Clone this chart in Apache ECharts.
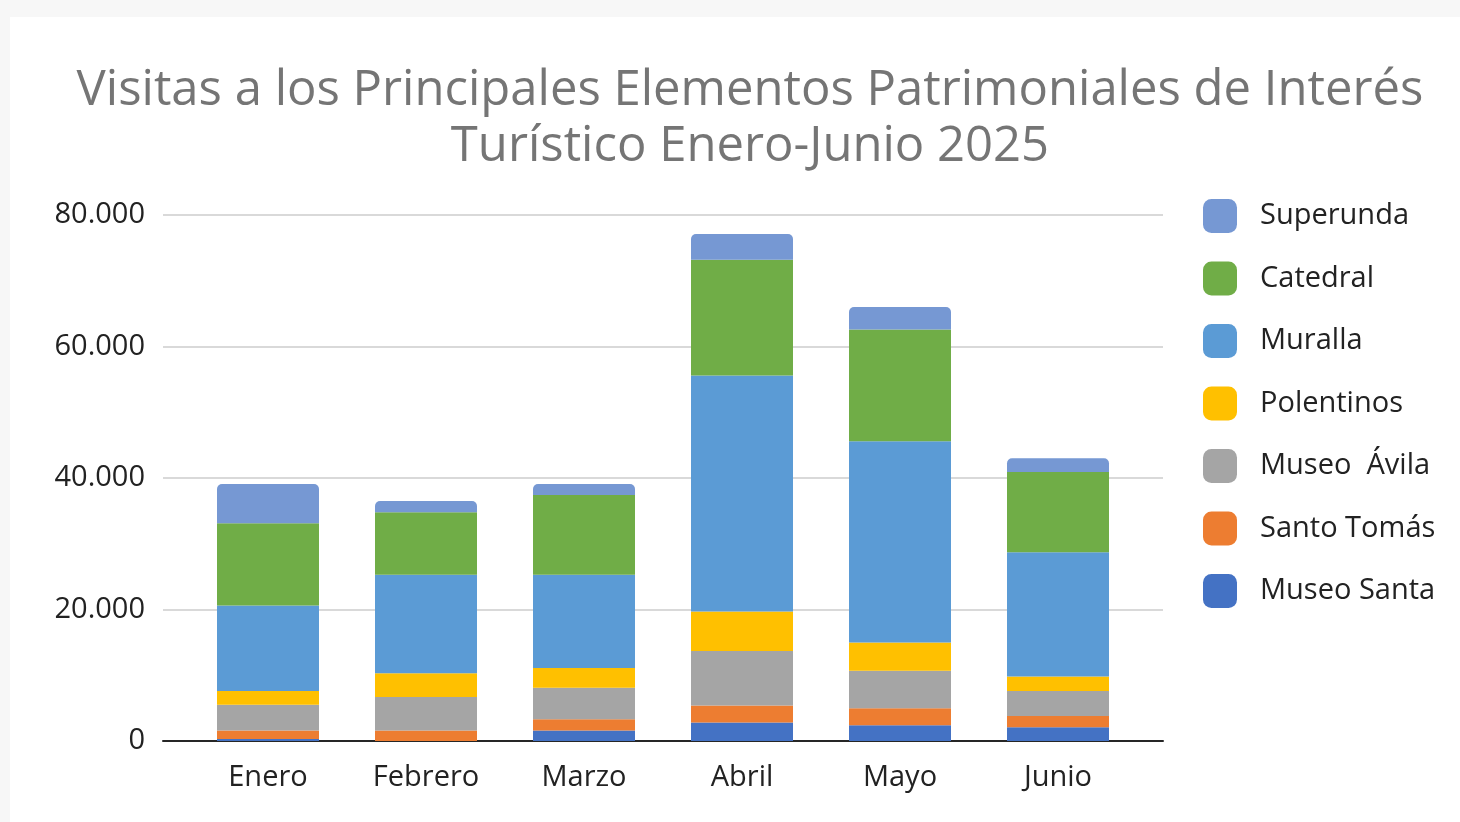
<!DOCTYPE html>
<html>
<head>
<meta charset="utf-8">
<script src="https://cdn.jsdelivr.net/npm/echarts@6/dist/echarts.min.js"></script>
<style>
  html, body { margin: 0; padding: 0; background: #f7f7f7; }
  .card { position: absolute; left: 10px; top: 17px; width: 1450px; height: 805px; background: #fff; }
  #chart { position: absolute; left: 0; top: 0; width: 1460px; height: 822px; }
</style>
</head>
<body>
<div class="card"></div>
<div id="chart"></div>
<script>
const months = ['Enero', 'Febrero', 'Marzo', 'Abril', 'Mayo', 'Junio']

// visitas por elemento (apiladas de abajo a arriba)
const museoSanta = [300, 0, 1600, 2800, 2400, 2100]
const santoTomas = [1300, 1600, 1700, 2600, 2600, 1700]
const museoAvila = [3900, 5100, 4800, 8300, 5700, 3800]
const polentinos = [2100, 3600, 3000, 6000, 4300, 2200]
const muralla = [13000, 15000, 14200, 35900, 30600, 18900]
const catedral = [12500, 9500, 12100, 17600, 17000, 12200]
const superunda = [6000, 1700, 1700, 3900, 3400, 2100]

const yTicks = [0, 20000, 40000, 60000, 80000]

const seriesDefs = [
  { name: 'Museo Santa', data: museoSanta, color: '#4472c4' },
  { name: 'Santo Tomás', data: santoTomas, color: '#ed7d31' },
  { name: 'Museo  Ávila', data: museoAvila, color: '#a5a5a5' },
  { name: 'Polentinos', data: polentinos, color: '#ffc000' },
  { name: 'Muralla', data: muralla, color: '#5b9bd5' },
  { name: 'Catedral', data: catedral, color: '#70ad47' },
  { name: 'Superunda', data: superunda, color: '#7698d3' },
]

const fmtMiles = (v) => String(v).replace(/\B(?=(\d{3})+(?!\d))/g, '.')

const chart = echarts.init(document.getElementById('chart'))

const option = {
  animation: false,
  textStyle: { fontFamily: 'Open Sans' },
  title: {
    text: 'Visitas a los Principales Elementos Patrimoniales de Interés\nTurístico Enero-Junio 2025',
    left: 745,
    top: 58,
    textAlign: 'center',
    textStyle: {
      fontFamily: 'Open Sans',
      fontSize: 49,
      fontWeight: 'normal',
      color: '#757575',
      lineHeight: 56,
    },
  },
  legend: {
    orient: 'vertical',
    left: 1203,
    top: 199,
    padding: 0,
    itemWidth: 34,
    itemHeight: 34,
    itemGap: 28.5,
    icon: 'roundRect',
    data: seriesDefs.map((s) => s.name).reverse(),
    textStyle: { fontSize: 29, color: '#222222', padding: [0, 0, 0, 18] },
  },
  grid: [
    { left: 163, right: 297, top: 215, bottom: 81 },
    { left: 189, right: 323, top: 215, bottom: 81 },
  ],
  xAxis: [
    {
      gridIndex: 0,
      type: 'value',
      min: 0,
      max: 1,
      axisLine: { show: true, lineStyle: { color: '#262626', width: 2 } },
      axisTick: { show: false },
      axisLabel: { show: false },
      splitLine: { show: false },
    },
    {
      gridIndex: 1,
      type: 'category',
      data: months,
      axisLine: { show: false },
      axisTick: { show: false },
      axisLabel: { fontSize: 29, color: '#222222', margin: 22 },
    },
  ],
  yAxis: [
    {
      gridIndex: 0,
      type: 'value',
      min: yTicks[0],
      max: yTicks[yTicks.length - 1],
      interval: 20000,
      axisLine: { show: false },
      axisTick: { show: false },
      axisLabel: { fontSize: 29, color: '#222222', margin: 18, formatter: fmtMiles },
      splitLine: { lineStyle: { color: '#d9d9d9', width: 2 } },
    },
    {
      gridIndex: 1,
      type: 'value',
      min: yTicks[0],
      max: yTicks[yTicks.length - 1],
      show: false,
      splitLine: { show: false },
    },
  ],
  series: seriesDefs.map((s, i) => ({
    name: s.name,
    type: 'bar',
    stack: 'total',
    xAxisIndex: 1,
    yAxisIndex: 1,
    barWidth: 102,
    data: s.data,
    itemStyle: {
      color: s.color,
      borderRadius: i === seriesDefs.length - 1 ? [5, 5, 0, 0] : 0,
    },
  })),
}

chart.setOption(option)
</script>
</body>
</html>
